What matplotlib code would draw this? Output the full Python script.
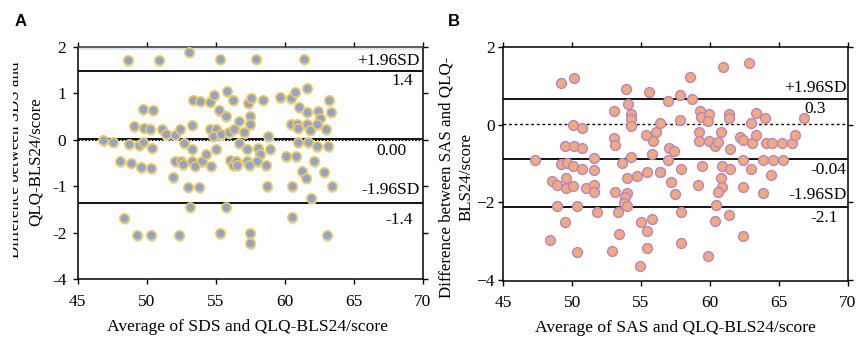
import matplotlib
matplotlib.use("Agg")
import matplotlib.pyplot as plt
import matplotlib.transforms as mtransforms
from matplotlib.patches import Rectangle

# ---------------- data ----------------
# Panel A: SDS vs QLQ-BLS24
a_mean = [48.62, 50.87, 53.09, 55.31, 57.92, 61.38,
          53.38, 53.86, 54.59, 54.88, 55.80, 56.28, 57.37, 57.56, 58.41, 59.66, 60.43, 60.75, 61.59, 63.19,
          49.71, 50.43, 55.24, 55.72, 56.67, 57.49, 57.49, 61.06, 61.59, 62.44, 63.33, 62.56,
          49.08, 49.81, 50.24, 51.14, 51.38, 52.05, 52.42, 53.29, 54.57, 55.02, 54.83, 55.36, 55.94, 56.35,
          57.08, 60.43, 60.87, 60.94, 61.59, 61.84, 62.32, 62.97,
          46.86, 47.58, 48.74, 49.47, 49.76, 50.36, 52.73, 53.29, 55.02, 56.67, 57.25, 58.09, 58.21, 58.94,
          58.82, 60.94, 61.71, 62.32, 63.16,
          48.09, 48.84, 49.61, 50.34, 51.93, 52.08, 52.46, 52.61, 53.29, 53.48, 54.03, 54.28, 54.64, 56.04,
          56.28, 56.47, 56.57, 57.25, 57.44, 58.02, 58.62, 60.10, 60.80, 62.15, 61.28, 61.55, 62.85,
          52.97, 53.82, 58.74, 60.53, 63.41, 61.93, 53.12, 55.75, 48.38, 60.53,
          49.32, 50.34, 52.34, 55.31, 57.49, 57.49, 63.04]
a_diff = [1.71, 1.71, 1.89, 1.74, 1.74, 1.74,
          0.86, 0.83, 0.82, 0.96, 1.04, 0.86, 0.79, 0.89, 0.86, 0.91, 0.89, 1.03, 1.11, 0.86,
          0.66, 0.64, 0.63, 0.51, 0.41, 0.51, 0.33, 0.70, 0.60, 0.61, 0.60, 0.47,
          0.29, 0.26, 0.23, 0.23, 0.12, 0.11, 0.24, 0.32, 0.24, 0.24, 0.08, 0.12, 0.16, 0.24,
          0.16, 0.33, 0.33, 0.26, 0.33, 0.22, 0.33, 0.23,
          -0.01, -0.04, -0.09, -0.11, -0.04, -0.17, -0.07, -0.19, -0.19, -0.07, -0.19, -0.17, -0.30, -0.19,
          0.07, -0.05, -0.05, -0.14, -0.14,
          -0.46, -0.49, -0.59, -0.61, -0.81, -0.46, -0.46, -0.53, -0.46, -0.56, -0.46, -0.31, -0.56, -0.44,
          -0.55, -0.46, -0.54, -0.46, -0.55, -0.46, -0.55, -0.36, -0.36, -0.46, -0.68, -0.82, -0.69,
          -1.01, -1.01, -1.00, -1.00, -1.00, -1.25, -1.44, -1.44, -1.68, -1.67,
          -2.05, -2.05, -2.05, -2.01, -2.01, -2.23, -2.05]

# Panel B: SAS vs QLQ-BLS24
b_mean = [49.16, 50.15, 53.91, 55.55, 56.93, 57.83, 58.53, 58.67, 60.95, 62.84,
          53.06, 54.08, 54.27, 54.27, 54.27, 50.08, 50.74, 56.37, 57.85, 59.28, 59.33, 59.93, 59.88,
          61.41, 61.38, 62.98, 63.34, 63.97, 66.85,
          53.06, 53.13, 55.33, 56.06, 55.87, 55.77, 57.03, 57.39, 59.23, 59.23, 59.93, 60.39, 60.56,
          60.78, 61.48, 62.21, 62.42, 63.03, 63.32, 64.05, 64.53, 65.26, 65.98, 66.20,
          49.50, 50.11, 50.69,
          47.30, 49.16, 49.60, 50.08, 50.69, 51.58, 51.56, 53.64, 54.29, 56.98, 56.40, 57.90, 59.40,
          60.88, 61.48, 62.42, 63.01, 63.88, 64.60, 65.33, 64.46,
          48.53, 48.90, 49.57, 49.53, 50.08, 51.03, 51.56, 51.58, 53.11, 53.98, 54.73, 55.46, 56.37,
          57.17, 57.49, 59.11, 60.78, 60.85, 60.56, 62.38, 63.85,
          53.98, 53.83, 53.76, 53.95, 48.90, 50.37, 51.82, 53.30, 57.88, 60.42, 61.41,
          49.50, 54.97, 55.82, 60.39,
          48.36, 53.42, 55.43, 62.40, 50.37, 52.91, 55.43, 57.88, 59.88, 54.95]
b_diff = [1.08, 1.20, 0.91, 0.83, 0.60, 0.75, 1.21, 0.65, 1.48, 1.59,
          0.36, 0.52, 0.28, 0.15, -0.03, 0.00, -0.09, 0.04, 0.13, 0.34, 0.20, 0.26, 0.09,
          0.26, 0.18, 0.05, 0.30, 0.17, 0.17,
          -0.34, -0.52, -0.28, -0.19, -0.43, -0.75, -0.59, -0.67, -0.18, -0.42, -0.42, -0.54, -0.44,
          -0.19, -0.62, -0.33, -0.40, -0.48, -0.28, -0.48, -0.48, -0.48, -0.48, -0.28,
          -0.55, -0.54, -0.61,
          -0.91, -1.00, -0.99, -1.06, -1.14, -0.85, -1.16, -0.99, -0.84, -0.90, -1.23, -1.15, -1.07,
          -1.07, -1.15, -0.91, -1.15, -0.91, -0.91, -0.91, -1.30,
          -1.44, -1.56, -1.38, -1.64, -1.59, -1.64, -1.56, -1.73, -1.73, -1.38, -1.32, -1.23, -1.23,
          -1.47, -1.78, -1.54, -1.37, -1.60, -1.73, -1.60, -1.75,
          -1.77, -1.86, -2.02, -2.09, -2.09, -2.09, -2.25, -2.25, -2.25, -2.07, -2.33,
          -2.50, -2.50, -2.43, -2.48,
          -2.96, -2.82, -2.74, -2.86, -3.28, -3.26, -3.16, -3.05, -3.38, -3.62]

# reference lines (upper LoA, mean, lower LoA)
a_lines = [1.47, 0.02, -1.37]
b_lines = [0.66, 0.02, -0.88, -2.12]

a_texts = ["+1.96SD", "1.4", "0.00", "-1.96SD", "-1.4"]
a_text_pos = [(69.8, 1.70), (69.3, 1.27), (68.85, -0.24), (69.8, -1.07), (69.3, -1.73)]
b_texts = ["+1.96SD", "0.3", "-0.04", "-1.96SD", "-2.1"]
b_text_pos = [(69.9, 0.95), (68.4, 0.41), (69.9, -1.17), (69.9, -1.81), (69.3, -2.41)]

x_ticks = [45, 50, 55, 60, 65, 70]
a_yticks = [2, 1, 0, -1, -2, -3]
a_yticklabels = ["2", "1", "0", "-1", "-2", "-4"]
b_yticks = [2, 0, -2, -4]

a_xlabel = "Average of SDS and QLQ-BLS24/score"
a_ylabel = ["Difference between SDS and", "QLQ-BLS24/score"]
b_xlabel = "Average of SAS and QLQ-BLS24/score"
b_ylabel = ["Difference between SAS and QLQ-", "BLS24/score"]

# ---------------- figure ----------------
SERIF = ["Liberation Serif", "DejaVu Serif"]
plt.rcParams['font.family'] = SERIF
W, H = 858, 340
fig = plt.figure(figsize=(W / 100, H / 100), dpi=100)


def px_axes(l, t, r, b):
    return fig.add_axes([l / W, 1 - b / H, (r - l) / W, (b - t) / H])


axA = px_axes(77.7, 46.7, 422.7, 279.3)
axB = px_axes(503.3, 46.7, 847.7, 280.7)

for ax in (axA, axB):
    ax.set_xlim(45, 70)
    ax.set_xticks(x_ticks)
    for s in ax.spines.values():
        s.set_linewidth(1.1)
        s.set_color('black')
    ax.tick_params(axis='both', which='both', direction='out', length=3.6, width=1.0,
                   top=True, right=True, labeltop=False, labelright=False,
                   labelsize=12.5, colors='black')
    ax.tick_params(axis='x', pad=7)

# Panel A
axA.set_ylim(-3.0, 1.99)
axA.set_yticks(a_yticks)
axA.set_yticklabels(a_yticklabels)
axA.tick_params(axis='y', pad=4.5)
axA.spines['top'].set_color('#444444')
axA.spines['top'].set_linewidth(1.2)
axA.axhline(1.955, color='#dde7f2', lw=1.4, zorder=1)
axA.axhline(a_lines[0], color='black', lw=1.3, zorder=2)
axA.axhline(a_lines[1], color='black', lw=1.3, zorder=2)
axA.axhline(0.0, color='black', lw=0.8, ls=(0, (1.5, 1.5)), zorder=2)
axA.axhline(a_lines[2], color='black', lw=1.3, zorder=2)
shadow = mtransforms.offset_copy(axA.transData, fig=fig, x=0.8, y=-2.2, units='dots')
axA.scatter(a_mean, a_diff, s=48, color='#d3e0f0', edgecolors='none', transform=shadow, zorder=3)
axA.scatter(a_mean, a_diff, s=44, color='#8fa4d6', edgecolors='#f2c84e', linewidths=1.2, zorder=4)
for t, (x, y) in zip(a_texts, a_text_pos):
    axA.text(x, y, t, ha='right', va='center', fontsize=12.5, zorder=5)

# Panel B
axB.set_ylim(-4.01, 1.99)
axB.set_yticks(b_yticks)
axB.tick_params(axis='y', pad=2.4)
axB.axhline(b_lines[0], color='black', lw=1.3, zorder=2)
axB.axhline(b_lines[1], color='black', lw=1.0, ls=(0, (2, 2)), zorder=2)
axB.axhline(b_lines[2], color='black', lw=1.3, zorder=2)
axB.axhline(b_lines[3], color='black', lw=1.3, zorder=2)
axB.scatter(b_mean, b_diff, s=50, color='#f2a97c', edgecolors='#b385c9', linewidths=1.0, zorder=4)
for t, (x, y) in zip(b_texts, b_text_pos):
    axB.text(x, y, t, ha='right', va='center', fontsize=12.5, zorder=5)

# Axis labels
fig.text(248 / W, 1 - 327 / H, a_xlabel, ha='center', va='center', fontsize=12.6)
fig.text(675 / W, 1 - 328 / H, b_xlabel, ha='center', va='center', fontsize=12.6)

YL = 12.2
fig.text(15.5 / W, 1 - 160 / H, a_ylabel[0], ha='center', va='center', rotation=90, fontsize=YL)
fig.text(35.5 / W, 1 - 162 / H, a_ylabel[1], ha='center', va='center', rotation=90, fontsize=YL)
# the reference crops the outer line of panel A's y label at its left edge
fig.patches.append(Rectangle((0, 0), 12.5 / W, 1, transform=fig.transFigure,
                             facecolor='white', edgecolor='none', zorder=20))
fig.text(447 / W, 1 - 177 / H, b_ylabel[0], ha='center', va='center', rotation=90, fontsize=YL)
fig.text(467 / W, 1 - 177 / H, b_ylabel[1], ha='center', va='center', rotation=90, fontsize=YL)

fig.text(21 / W, 1 - 21 / H, "A", ha='center', va='center', fontsize=12,
         fontweight='bold', family=["Liberation Sans", "DejaVu Sans"], zorder=30)
fig.text(454 / W, 1 - 21 / H, "B", ha='center', va='center', fontsize=12,
         fontweight='bold', family=["Liberation Sans", "DejaVu Sans"], zorder=30)

fig.savefig("out.png", dpi=100)
